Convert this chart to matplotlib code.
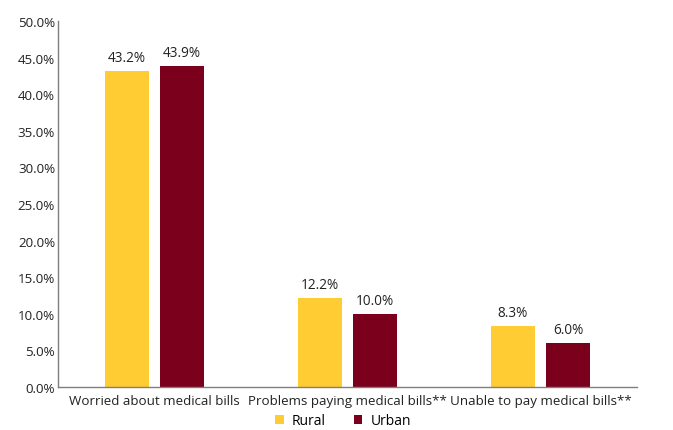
import numpy as np
import matplotlib
matplotlib.use('Agg')
import matplotlib.pyplot as plt

categories = ['Worried about medical bills', 'Problems paying medical bills**', 'Unable to pay medical bills**']
rural = [43.2, 12.2, 8.3]
urban = [43.9, 10.0, 6.0]
series_names = ['Rural', 'Urban']

plt.rcParams['font.family'] = ['Open Sans', 'DejaVu Sans']
fig = plt.figure(figsize=(6.73, 4.31), dpi=100)
ax = fig.add_axes([0.086, 0.0998, 0.8605, 0.849])

x = np.arange(len(categories))
w = 0.225
off = 0.143
b1 = ax.bar(x - off, rural, w, color='#FFCC33', label=series_names[0])
b2 = ax.bar(x + off, urban, w, color='#7A001C', label=series_names[1])
for bars in (b1, b2):
    for r in bars:
        ax.text(r.get_x() + r.get_width() / 2, r.get_height() + 0.8, f'{r.get_height():.1f}%',
                ha='center', va='bottom', fontsize=9.8, color='#222222')

ax.set_xlim(-0.5, 2.5)
ax.set_ylim(0, 50)
ax.set_yticks(np.arange(0, 50.1, 5))
ax.set_yticklabels([f'{v:.1f}%' for v in np.arange(0, 50.1, 5)])
ax.set_xticks(x)
ax.set_xticklabels(categories)
ax.tick_params(axis='both', length=0, labelsize=9.6, colors='#222222')
ax.tick_params(axis='x', pad=5, labelsize=9.6)
ax.tick_params(axis='y', pad=2)
for s in ['top', 'right']:
    ax.spines[s].set_visible(False)
for s in ['left', 'bottom']:
    ax.spines[s].set_color('#7f7f7f')
    ax.spines[s].set_linewidth(1)

fig.legend(handles=[b1, b2], labels=series_names, loc='center', bbox_to_anchor=(0.51, 0.022),
           ncol=2, frameon=False, fontsize=10, handlelength=0.6, handleheight=0.6,
           columnspacing=2.0, handletextpad=0.6)

fig.savefig('out.png', dpi=100)
